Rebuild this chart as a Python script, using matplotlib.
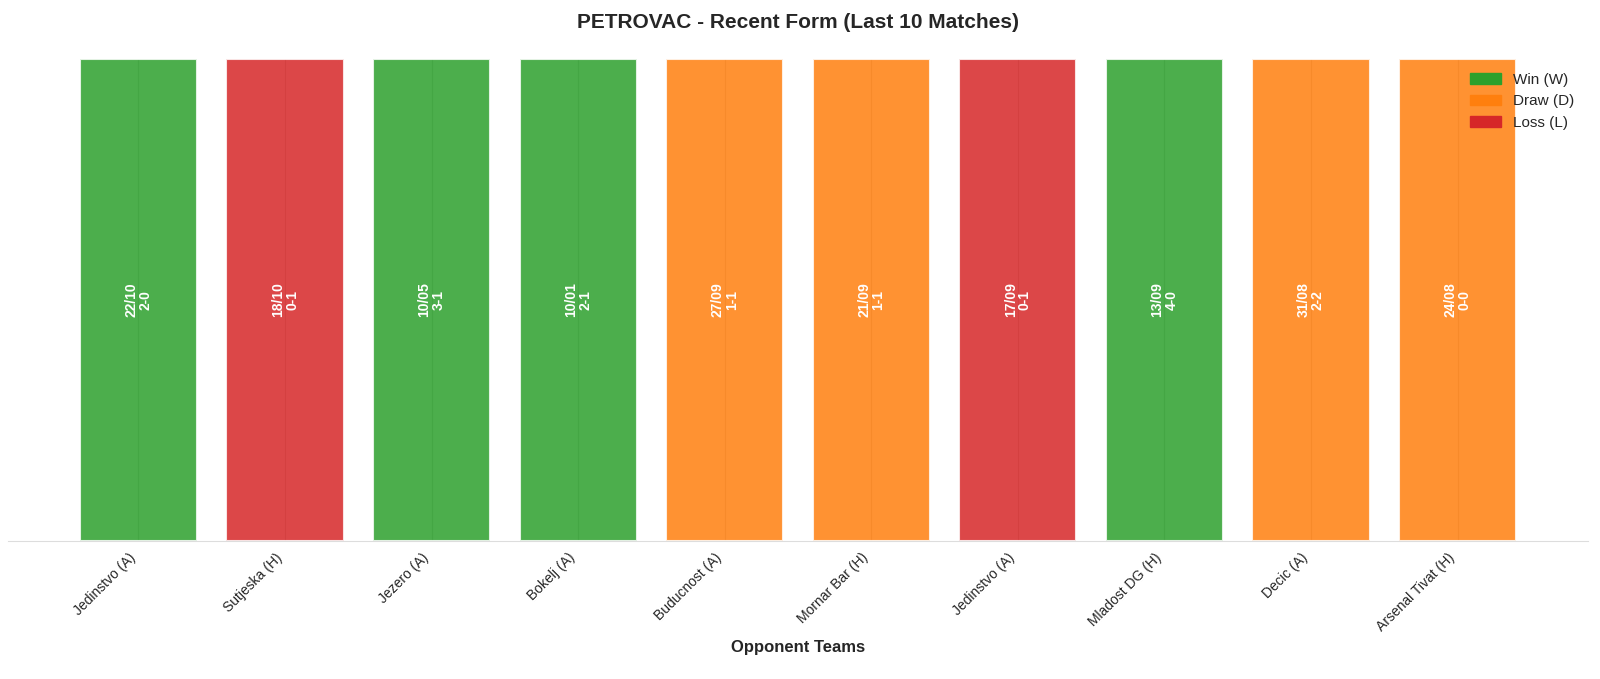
import matplotlib
matplotlib.use("Agg")
import matplotlib.pyplot as plt
import seaborn as sns
from matplotlib.patches import Patch

sns.set_style("whitegrid")
plt.rcParams['font.family'] = ['Liberation Sans', 'DejaVu Sans']

opponents = ["Jedinstvo (A)", "Sutjeska (H)", "Jezero (A)", "Bokelj (A)", "Buducnost (A)",
             "Mornar Bar (H)", "Jedinstvo (A)", "Mladost DG (H)", "Decic (A)", "Arsenal Tivat (H)"]
results = ["W", "L", "W", "W", "D", "D", "L", "W", "D", "D"]
dates = ["22/10", "18/10", "10/05", "10/01", "27/09", "21/09", "17/09", "13/09", "31/08", "24/08"]
scores = ["2-0", "0-1", "3-1", "2-1", "1-1", "1-1", "0-1", "4-0", "2-2", "0-0"]
values = [1] * len(opponents)

color_map = {"W": "#2ca02c", "D": "#ff7f0e", "L": "#d62728"}
colors = [color_map[r] for r in results]

fig = plt.figure(figsize=(16, 6.79), dpi=100)
ax = fig.add_axes([8/1600, 138/679, 1580/1600, (541-59)/679])

x = list(range(len(opponents)))
ax.bar(x, values, color=colors, alpha=0.85, edgecolor="white", linewidth=1.5, width=0.8)

for i in x:
    ax.text(i, 0.5, f"{dates[i]}\n{scores[i]}", rotation=90, ha="center", va="center",
            color="white", fontsize=10, fontweight="bold", linespacing=1.0)

ax.set_ylim(0, 1)
ax.set_xticks(x)
ax.set_xticklabels(opponents, rotation=45, ha="right", fontsize=10)
ax.set_yticks([])
ax.set_xlabel("Opponent Teams", fontsize=12, fontweight="bold")
ax.set_title("PETROVAC - Recent Form (Last 10 Matches)", fontsize=15, fontweight="bold", pad=22)
ax.grid(axis="y", visible=False)
for s in ["left", "right", "top"]:
    ax.spines[s].set_visible(False)
ax.spines["bottom"].set_color("#dddddd")

handles = [Patch(color=color_map["W"], label="Win (W)"),
           Patch(color=color_map["D"], label="Draw (D)"),
           Patch(color=color_map["L"], label="Loss (L)")]
ax.legend(handles=handles, loc="upper right", frameon=False, fontsize=11)

fig.savefig("out.png", dpi=100)
